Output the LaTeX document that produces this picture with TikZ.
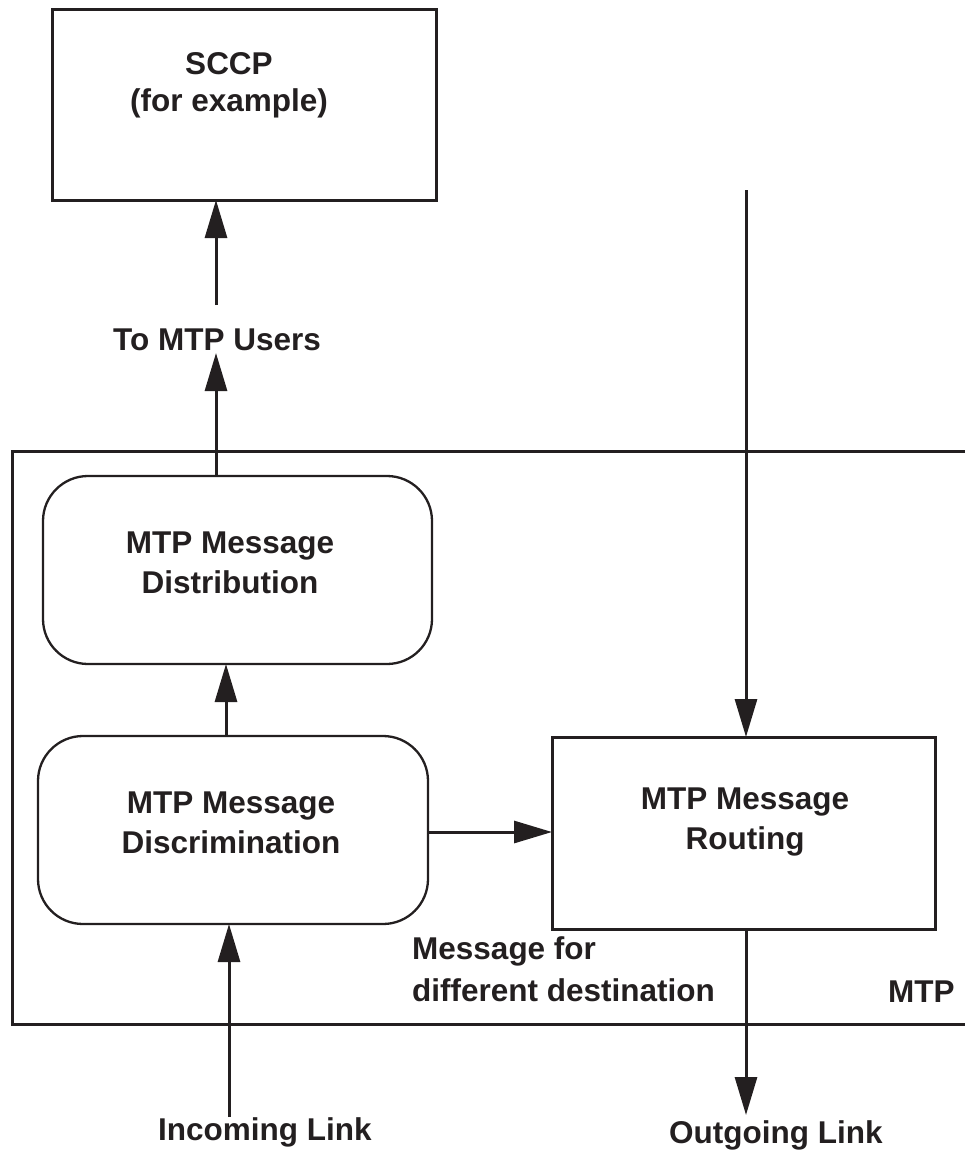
\documentclass[tikz,border=0pt]{standalone}
\usepackage{fontspec}
\setmainfont{Liberation Sans}
\usetikzlibrary{arrows.meta}
\definecolor{ink}{HTML}{231F20}
\begin{document}
\begin{tikzpicture}[x=1pt,y=-1pt,
  lbl/.style={font=\bfseries\fontsize{31.5}{40}\selectfont, text=ink, inner sep=0pt, align=center},
  sqbox/.style={draw=ink, line width=3pt, inner sep=0pt, outer sep=0pt},
  rbox/.style={draw=ink, line width=2.3pt, rounded corners=45pt, inner sep=0pt, outer sep=0pt},
  arr/.style={draw=ink, line width=3pt, -{Triangle[length=38pt,width=22pt]}},
  plain/.style={draw=ink, line width=3pt}]
\useasboundingbox (0,0) rectangle (965,1151);
% boxes
\node[sqbox, minimum width=384pt, minimum height=191pt] (sccp) at (244,104.5) {};
\node[rbox, minimum width=389pt, minimum height=188pt] (dist) at (237.5,570) {};
\node[rbox, minimum width=390pt, minimum height=188pt] (disc) at (233,830) {};
\node[sqbox, minimum width=383pt, minimum height=192pt] (rout) at (743.5,833) {};
% MTP frame (open to the right)
\coordinate (mtpTR) at (965,451);
\coordinate (mtpTL) at (12,451);
\coordinate (mtpBL) at (12,1024);
\coordinate (mtpBR) at (965,1024);
\draw[plain] (mtpTR) -- (mtpTL) -- (mtpBL) -- (mtpBR);
% labels
\node[lbl, font=\bfseries\fontsize{31.5}{37}\selectfont] (sccpT) at (229,85) {SCCP\\(for example)};
\node[lbl, anchor=base] (users) at (217,350) {To MTP Users};
\node[lbl] (distT) at (230,563) {MTP Message\\Distribution};
\node[lbl] (discT) at (231,823) {MTP Message\\Discrimination};
\node[lbl] (routT) at (745,822) {MTP Message\\Routing};
\node[lbl, align=left, anchor=west, font=\bfseries\fontsize{31.5}{42}\selectfont] (msg) at (412,969.5) {Message for\\different destination};
\node[lbl, anchor=base west] (mtp) at (888,1002) {MTP};
\node[lbl, anchor=base west] (inc) at (158,1140) {Incoming Link};
\node[lbl, anchor=base west] (out) at (669,1143) {Outgoing Link};
% connector helper points
\coordinate (usersTip) at (216,353);
\coordinate (upStart) at (216,305);
\coordinate (dd) at (226,0);
\coordinate (incTop) at (229,1117);
\coordinate (hArr) at (0,832);
\coordinate (vTop) at (746,190);
\coordinate (outTip) at (746,1115);
% connectors
\draw[arr] (dist.north -| usersTip) -- (usersTip);
\draw[arr] (upStart) -- (sccp.south -| upStart);
\draw[arr] (disc.north -| dd) -- (dist.south -| dd);
\draw[arr] (incTop) -- (disc.south -| incTop);
\draw[arr] (disc.east |- hArr) -- (rout.west |- hArr);
\draw[arr] (vTop) -- (rout.north -| vTop);
\draw[arr] (rout.south -| outTip) -- (outTip);
\end{tikzpicture}
\end{document}
